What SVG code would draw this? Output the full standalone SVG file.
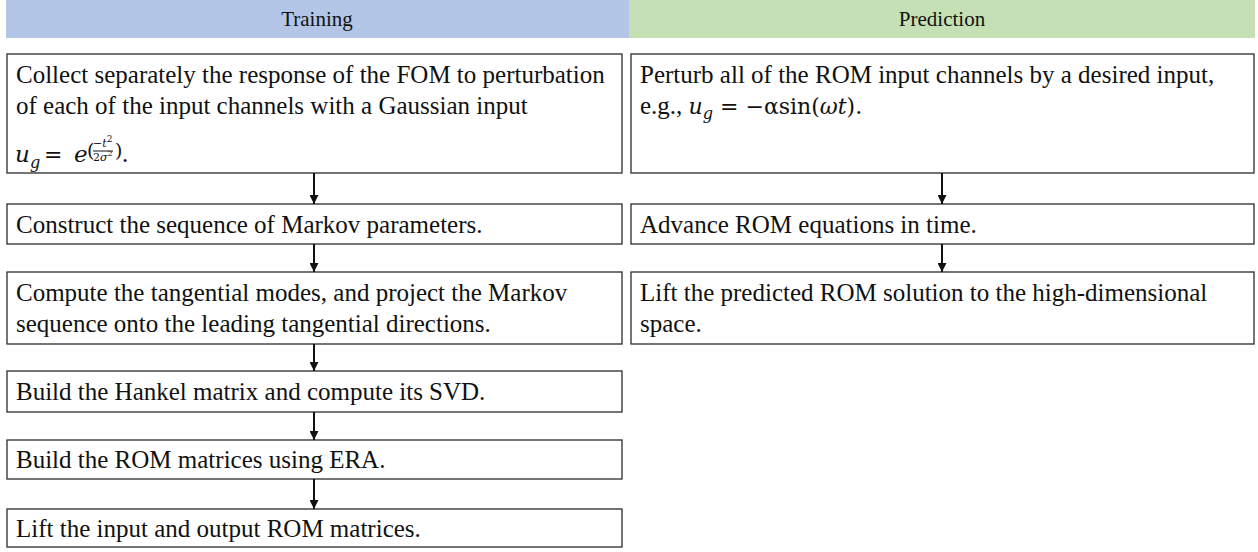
<svg xmlns="http://www.w3.org/2000/svg" width="1258" height="552" viewBox="0 0 1258 552">
  <style>
    .box { fill: #ffffff; stroke: #2b2b2b; stroke-width: 1.3; }
    .t { font-family: "Liberation Serif", "Times New Roman", serif; font-size: 25px; fill: #111; }
    .h { font-family: "Liberation Serif", "Times New Roman", serif; font-size: 21px; fill: #111; text-anchor: middle; }
    .m { font-family: "DejaVu Serif", "Liberation Serif", serif; font-style: italic; fill: #111; }
    .mr { font-family: "DejaVu Serif", "Liberation Serif", serif; fill: #111; }
    .link { stroke: #111; stroke-width: 2; fill: none; marker-end: url(#arrow); }
  </style>
  <defs>
    <marker id="arrow" viewBox="0 0 10 10" refX="10" refY="5" markerWidth="5" markerHeight="4.5" markerUnits="strokeWidth" orient="auto">
      <path d="M0,0 L10,5 L0,10 z" fill="#111"/>
    </marker>
  </defs>
  <rect width="1258" height="552" fill="#ffffff"/>

  <!-- column headers -->
  <g id="header-training">
    <rect x="6" y="0" width="623" height="38" fill="#b4c6e7"/>
    <text class="h" x="317" y="26">Training</text>
  </g>
  <g id="header-prediction">
    <rect x="629" y="0" width="626" height="38" fill="#c5e0b4"/>
    <text class="h" x="942" y="26">Prediction</text>
  </g>

  <!-- training steps -->
  <g id="t1">
    <rect class="box" x="7" y="54" width="615" height="119"/>
    <text class="t" x="16" y="83">Collect separately the response of the FOM to perturbation</text>
    <text class="t" x="16" y="114">of each of the input channels with a Gaussian input</text>
    <text class="m" x="15" y="162" font-size="23">u</text>
    <text class="m" x="30" y="168" font-size="16">g</text>
    <text class="mr" x="44" y="162" font-size="22">=</text>
    <text class="m" x="74" y="162" font-size="23">e</text>
    <text class="mr" x="87" y="157" font-size="19">(</text>
    <text class="mr" x="93" y="147" font-size="11">−<tspan class="m">t</tspan><tspan font-size="9" dy="-5">2</tspan></text>
    <line x1="93" y1="151" x2="113" y2="151" stroke="#111" stroke-width="1"/>
    <text class="mr" x="93" y="161" font-size="11">2<tspan class="m">σ</tspan><tspan font-size="8" dy="-5">2</tspan></text>
    <text class="mr" x="115" y="157" font-size="19">)</text>
    <text class="t" x="122" y="162">.</text>
  </g>
  <g id="t2">
    <rect class="box" x="7" y="204" width="615" height="40"/>
    <text class="t" x="16" y="233">Construct the sequence of Markov parameters.</text>
  </g>
  <g id="t3">
    <rect class="box" x="7" y="272" width="615" height="72"/>
    <text class="t" x="16" y="301">Compute the tangential modes, and project the Markov</text>
    <text class="t" x="16" y="332">sequence onto the leading tangential directions.</text>
  </g>
  <g id="t4">
    <rect class="box" x="7" y="371" width="615" height="41"/>
    <text class="t" x="16" y="400">Build the Hankel matrix and compute its SVD.</text>
  </g>
  <g id="t5">
    <rect class="box" x="7" y="440" width="615" height="39"/>
    <text class="t" x="16" y="468">Build the ROM matrices using ERA.</text>
  </g>
  <g id="t6">
    <rect class="box" x="7" y="509" width="615" height="38"/>
    <text class="t" x="16" y="537">Lift the input and output ROM matrices.</text>
  </g>

  <!-- prediction steps -->
  <g id="p1">
    <rect class="box" x="631" y="54" width="623" height="119"/>
    <text class="t" x="640" y="83">Perturb all of the ROM input channels by a desired input,</text>
    <text class="t" x="640" y="114">e.g., <tspan class="m" font-size="22">u</tspan><tspan class="m" font-size="16" dy="5">g</tspan><tspan class="mr" font-size="22" dy="-5"> = −α</tspan><tspan class="mr" font-size="22">sin(</tspan><tspan class="m" font-size="22">ωt</tspan><tspan class="mr" font-size="22">).</tspan></text>
  </g>
  <g id="p2">
    <rect class="box" x="631" y="204" width="623" height="40"/>
    <text class="t" x="640" y="233">Advance ROM equations in time.</text>
  </g>
  <g id="p3">
    <rect class="box" x="631" y="272" width="623" height="72"/>
    <text class="t" x="640" y="301">Lift the predicted ROM solution to the high-dimensional</text>
    <text class="t" x="640" y="332">space.</text>
  </g>

  <!-- connectors -->
  <g id="connectors">
    <line class="link" x1="314" y1="173" x2="314" y2="204"/>
    <line class="link" x1="314" y1="244" x2="314" y2="272"/>
    <line class="link" x1="314" y1="344" x2="314" y2="371"/>
    <line class="link" x1="314" y1="412" x2="314" y2="440"/>
    <line class="link" x1="314" y1="479" x2="314" y2="509"/>
    <line class="link" x1="942" y1="173" x2="942" y2="204"/>
    <line class="link" x1="942" y1="244" x2="942" y2="272"/>
  </g>
</svg>
